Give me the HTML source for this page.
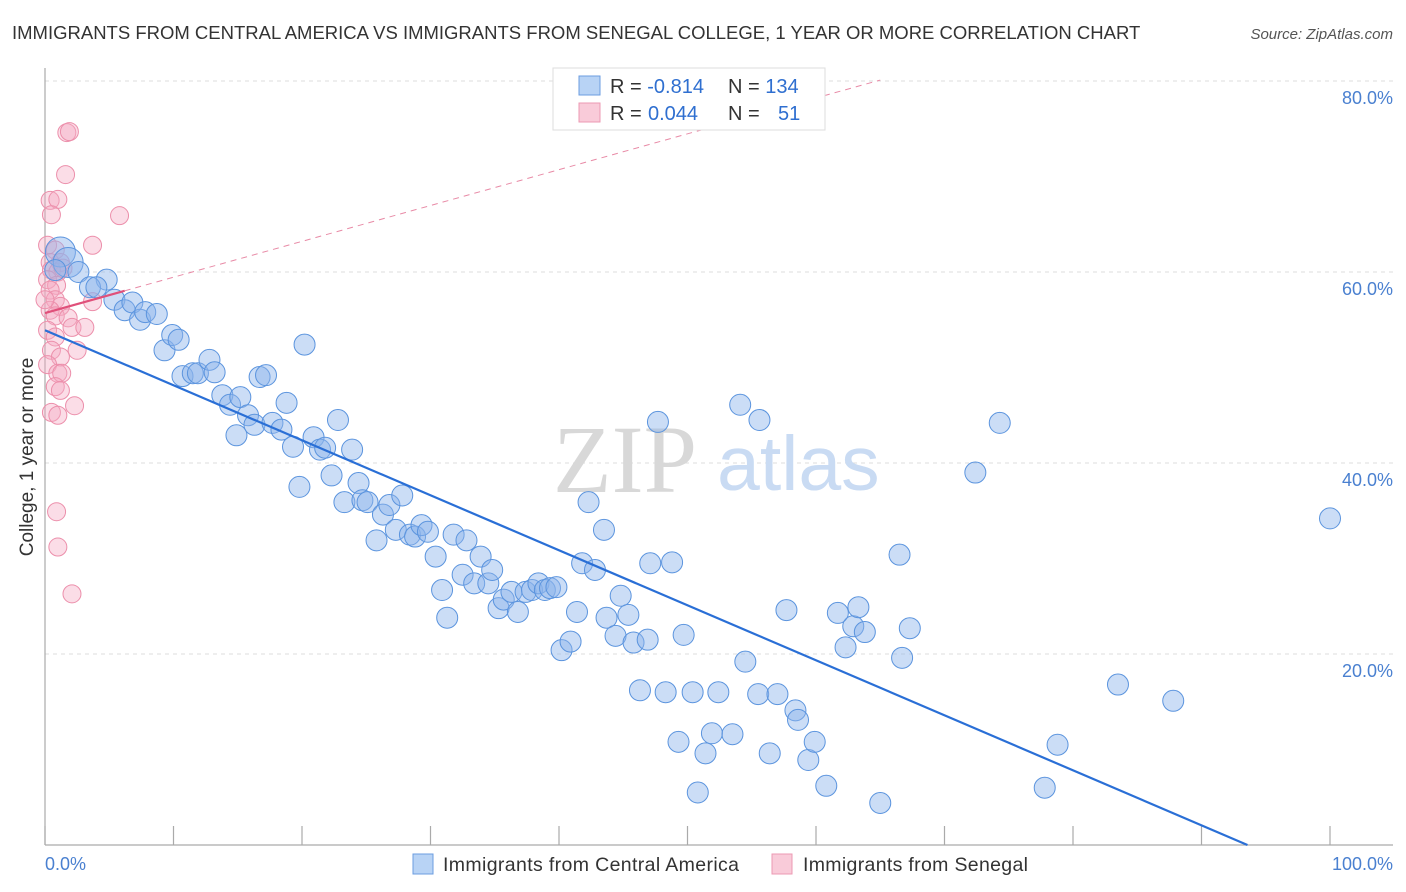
<!DOCTYPE html>
<html><head><meta charset="utf-8"><style>
body{margin:0;background:#fff;font-family:"Liberation Sans",sans-serif}
svg{display:block}
</style></head><body>
<svg id="chart" width="1406" height="892">
<text x="12" y="39" font-size="18.5" fill="#333">IMMIGRANTS FROM CENTRAL AMERICA VS IMMIGRANTS FROM SENEGAL COLLEGE, 1 YEAR OR MORE CORRELATION CHART</text>
<text x="1393" y="39" font-size="15" fill="#555" font-style="italic" text-anchor="end">Source: ZipAtlas.com</text>
<g id="grid"></g>
<g>
<text x="553" y="492" font-family="Liberation Serif,serif" font-size="96" fill="#d8d8d8">ZIP</text>
<text x="717" y="490" font-size="77" fill="#c9dbf3">atlas</text>
</g>
<line x1="45" y1="68" x2="45" y2="845" stroke="#aaa" stroke-width="1.2"/>
<line x1="45" y1="845" x2="1393" y2="845" stroke="#aaa" stroke-width="1.2"/>
<g id="xticks"></g>
<g id="ylabels"></g>
<g id="pink"></g>
<g id="blue"></g>
<g id="lines"></g>
<text transform="translate(33,457) rotate(-90)" font-size="19" fill="#333" text-anchor="middle">College, 1 year or more</text>
<text x="45" y="870" font-size="18" fill="#4a80d0">0.0%</text>
<text x="1393" y="870" font-size="18" fill="#4a80d0" text-anchor="end">100.0%</text>
<g>
<rect x="413" y="854" width="20" height="20" fill="#b8d3f5" stroke="#6b9de0"/>
<text x="443" y="871" font-size="19.5" fill="#333" textLength="296">Immigrants from Central America</text>
<rect x="772" y="854" width="20" height="20" fill="#f9cbd9" stroke="#ec9ab3"/>
<text x="803" y="871" font-size="19.5" fill="#333" textLength="225">Immigrants from Senegal</text>
</g>
<g>
<rect x="553" y="68" width="272" height="62" fill="#fff" stroke="#ddd"/>
<rect x="579" y="76" width="21" height="19" fill="#b8d3f5" stroke="#6b9de0"/>
<rect x="579" y="103" width="21" height="19" fill="#f9cbd9" stroke="#ec9ab3"/>
<text x="610" y="93" font-size="20" fill="#333">R = <tspan fill="#2f6fd0">-0.814</tspan><tspan x="728">N = </tspan><tspan fill="#2f6fd0">134</tspan></text>
<text x="610" y="120" font-size="20" fill="#333">R = <tspan x="648" fill="#2f6fd0">0.044</tspan><tspan x="728">N = </tspan><tspan x="778" fill="#2f6fd0">51</tspan></text>
</g>
</svg>
<script>
const yTicks=[20,40,60,80];
const yTickLabels=["20.0%","40.0%","60.0%","80.0%"];
const xTicks=[0,10,20,30,40,50,60,70,80,90,100];
const blueX=[1.2,1.8,0.8,2.6,4.8,3.5,4.0,5.4,6.2,6.8,7.4,7.8,8.7,9.3,9.9,10.4,10.7,11.5,11.9,12.8,13.2,13.8,14.4,14.9,15.2,15.8,16.3,16.7,17.2,17.7,18.4,18.8,19.3,19.8,20.2,20.9,21.4,21.8,22.3,22.8,23.3,23.9,24.4,24.7,25.1,25.8,26.3,26.8,27.3,27.8,28.4,28.8,29.3,29.8,30.4,30.9,31.3,31.8,32.5,32.8,33.4,33.9,34.5,34.8,35.3,35.7,36.3,36.8,37.4,37.9,38.4,38.9,39.3,39.8,40.2,40.9,41.4,41.8,42.3,42.8,43.5,43.7,44.4,44.8,45.4,45.8,46.3,46.9,47.1,47.7,48.3,48.8,49.3,49.7,50.4,50.8,51.4,51.9,52.4,53.5,54.1,54.5,55.5,55.6,56.4,57.0,57.7,58.4,58.6,59.4,59.9,60.8,61.7,62.3,62.9,63.3,63.8,65.0,66.5,66.7,67.3,72.4,74.3,77.8,78.8,83.5,87.8,100.0];
const blueY=[62.1,61.0,60.2,60.0,59.2,58.4,58.4,57.1,56.0,56.8,55.0,55.8,55.6,51.8,53.4,52.9,49.1,49.4,49.4,50.8,49.5,47.1,46.1,42.9,46.9,45.0,44.0,49.0,49.2,44.2,43.5,46.3,41.7,37.5,52.4,42.7,41.4,41.6,38.7,44.5,35.9,41.4,37.9,36.1,35.9,31.9,34.6,35.6,33.0,36.6,32.5,32.3,33.5,32.8,30.2,26.7,23.8,32.5,28.3,31.9,27.4,30.2,27.4,28.8,24.8,25.7,26.5,24.4,26.5,26.7,27.4,26.7,26.9,27.0,20.4,21.3,24.4,29.5,35.9,28.8,33.0,23.8,21.9,26.1,24.1,21.2,16.2,21.5,29.5,44.3,16.0,29.6,10.8,22.0,16.0,5.5,9.6,11.7,16.0,11.6,46.1,19.2,15.8,44.5,9.6,15.8,24.6,14.1,13.1,8.9,10.8,6.2,24.3,20.7,22.9,24.9,22.3,4.4,30.4,19.6,22.7,39.0,44.2,6.0,10.5,16.8,15.1,34.2];
const pinkX=[1.7,1.9,1.6,0.4,1.0,0.5,5.8,3.7,0.2,0.8,0.4,1.2,0.5,1.0,0.2,0.9,0.4,0.8,3.7,1.2,0.4,0.8,1.8,2.1,3.1,0.2,0.8,0.5,2.5,1.2,0.2,1.0,1.3,0.8,1.2,2.3,0.5,1.0,0.9,1.0,2.1,1.4,0.0];
const pinkY=[74.6,74.7,70.2,67.5,67.6,66.0,65.9,62.8,62.8,62.3,61.0,61.0,60.2,60.0,59.2,58.6,58.1,57.1,56.9,56.4,56.0,55.4,55.2,54.2,54.2,53.9,53.2,51.8,51.8,51.1,50.3,49.4,49.4,48.0,47.6,46.0,45.3,45.0,34.9,31.2,26.3,60.4,57.1];
const blueTrend=[53.9,-3.7];
const pinkTrend=[55.7,80.1/65];
const NS="http://www.w3.org/2000/svg";
const sx=v=>45+v*12.85, sy=v=>845-v*9.55;
function mk(t,p,a){const e=document.createElementNS(NS,t);for(const k in a)e.setAttribute(k,a[k]);p.appendChild(e);return e;}
const grid=document.getElementById('grid');
yTicks.forEach((t,i)=>{
 const l=mk('line',grid,{x1:45,x2:1393,y1:sy(t),y2:sy(t),stroke:'#ddd','stroke-dasharray':'4,4'});
 
 
 const tx=mk('text',document.getElementById('ylabels'),{x:1393,y:sy(t)+23,'font-size':18,fill:'#4a80d0','text-anchor':'end'});
 tx.textContent=yTickLabels[i];
 
 
});
const xt=document.getElementById('xticks');
xTicks.forEach(t=>{
 const l=mk('line',xt,{x1:sx(t),x2:sx(t),y1:826,y2:845,stroke:'#aaa','stroke-width':1.2});
 
 
});
const pg=document.getElementById('pink');
pinkX.forEach((x,i)=>{
 const c=mk('circle',pg,{cx:sx(x),cy:sy(pinkY[i]),r:9,fill:'rgba(246,170,195,0.4)',stroke:'#ec8fab','stroke-width':1});
 
 
});
const bg=document.getElementById('blue');
blueX.forEach((x,i)=>{
 const c=mk('circle',bg,{cx:sx(x),cy:sy(blueY[i]),r:i<2?15:10.5,fill:'rgba(140,180,235,0.45)',stroke:'#5b94de','stroke-width':1});
 
 
});
const lg=document.getElementById('lines');
const bEnd=-blueTrend[0]/((blueTrend[1]-blueTrend[0])/100);
const bl=mk('line',lg,{x1:sx(0),y1:sy(blueTrend[0]),x2:sx(bEnd),y2:sy(0),stroke:'#2a6fd6','stroke-width':2.2});


const pslope=(pinkTrend[1]*65-pinkTrend[0])/65;
const pl=mk('line',lg,{x1:sx(0),y1:sy(pinkTrend[0]),x2:sx(6.2),y2:sy(pinkTrend[0]+pslope*6.2),stroke:'#e0507a','stroke-width':2.2});


const pd=mk('line',lg,{x1:sx(6.2),y1:sy(pinkTrend[0]+pslope*6.2),x2:sx(65),y2:sy(pinkTrend[0]+pslope*65),stroke:'#e88aa6','stroke-width':1,'stroke-dasharray':'6,5'});


</script>
</body></html>
